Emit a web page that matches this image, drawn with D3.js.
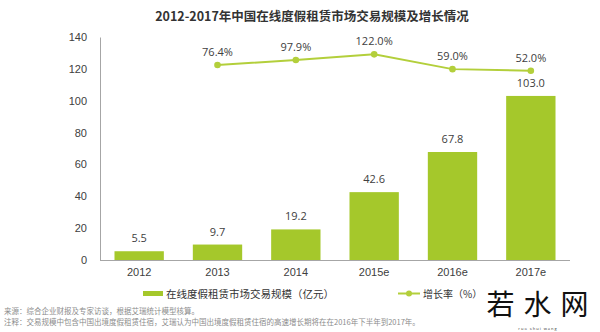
<!DOCTYPE html>
<html>
<head>
<meta charset="utf-8">
<script src="https://cdn.jsdelivr.net/npm/d3@7/dist/d3.min.js"></script>
<style>
  html, body { margin: 0; padding: 0; background: #fff; }
  svg { display: block; font-family: "Open Sans", "Noto Sans CJK SC", sans-serif; }
</style>
</head>
<body>
<svg id="chart" width="600" height="332"></svg>
<script>
// Market size (100M CNY) and year-over-year growth (%)
const years = ["2012", "2013", "2014", "2015e", "2016e", "2017e"];
const scale = [5.5, 9.7, 19.2, 42.6, 67.8, 103.0];
const growthYears = ["2013", "2014", "2015e", "2016e", "2017e"];
const growth = [76.4, 97.9, 122.0, 59.0, 52.0];
const yTicks = [0, 20, 40, 60, 80, 100, 120, 140];

const svg = d3.select("#chart");
const plotLeft = 100, plotRight = 570, plotTop = 37, plotBottom = 260;
const barColor = "#a5c82b", lineColor = "#b3cf3b", textColor = "#404040";
const cjk = "'Noto Sans CJK SC', sans-serif";

const x = d3.scaleBand().domain(years).range([plotLeft, plotRight]).paddingInner(0.37).paddingOuter(0.185);
const y = d3.scaleLinear().domain([0, 140]).range([plotBottom, plotTop]);
const y2 = d3.scaleLinear().domain([-755, 196]).range([plotBottom, plotTop]);

// Title
svg.append("text").attr("x", 312).attr("y", 21).attr("text-anchor", "middle")
  .attr("font-family", cjk).attr("font-weight", "bold").attr("font-size", 12.5)
  .attr("fill", "#333").text("2012-2017年中国在线度假租赁市场交易规模及增长情况");

// Y axis
const yAxis = svg.append("g").attr("transform", `translate(${plotLeft},0)`)
  .call(d3.axisLeft(y).tickValues(yTicks).tickSize(0).tickPadding(13));
yAxis.select(".domain").attr("stroke", "#a6a6a6");
yAxis.selectAll("text").attr("font-size", 11).attr("fill", textColor);

// X axis
const xAxis = svg.append("g").attr("transform", `translate(0,${plotBottom})`)
  .call(d3.axisBottom(x).tickSize(0).tickPadding(8));
xAxis.select(".domain").attr("stroke", "#a6a6a6").attr("d", `M${plotLeft},0.5H${plotRight}`);
xAxis.selectAll("text").attr("font-size", 11).attr("fill", textColor);

// Bars
svg.append("g").selectAll("rect").data(years).join("rect")
  .attr("x", d => x(d)).attr("width", x.bandwidth())
  .attr("y", (d, i) => y(scale[i])).attr("height", (d, i) => plotBottom - y(scale[i]))
  .attr("fill", barColor);

svg.append("g").selectAll("text").data(years).join("text")
  .attr("x", d => x(d) + x.bandwidth() / 2).attr("y", (d, i) => y(scale[i]) - 9)
  .attr("text-anchor", "middle").attr("font-size", 11).attr("fill", textColor)
  .text((d, i) => scale[i].toFixed(1));

// Growth line
const cx = d => x(d) + x.bandwidth() / 2;
const line = d3.line().x((d, i) => cx(growthYears[i])).y(d => y2(d));
svg.append("path").datum(growth).attr("d", line)
  .attr("fill", "none").attr("stroke", lineColor).attr("stroke-width", 2);
svg.append("g").selectAll("circle").data(growth).join("circle")
  .attr("cx", (d, i) => cx(growthYears[i])).attr("cy", d => y2(d)).attr("r", 3.3)
  .attr("fill", lineColor);
svg.append("g").selectAll("text").data(growth).join("text")
  .attr("x", (d, i) => cx(growthYears[i])).attr("y", d => y2(d) - 9)
  .attr("text-anchor", "middle").attr("font-size", 11).attr("fill", textColor)
  .text(d => d.toFixed(1) + "%");

// Legend
svg.append("rect").attr("x", 143).attr("y", 291).attr("width", 20).attr("height", 5).attr("fill", barColor);
svg.append("text").attr("x", 166).attr("y", 297.5).attr("font-family", cjk).attr("font-size", 10.5)
  .attr("fill", "#333").text("在线度假租赁市场交易规模（亿元）");
svg.append("line").attr("x1", 398).attr("x2", 420).attr("y1", 293.5).attr("y2", 293.5)
  .attr("stroke", lineColor).attr("stroke-width", 2);
svg.append("circle").attr("cx", 409).attr("cy", 293.5).attr("r", 3).attr("fill", lineColor);
svg.append("text").attr("x", 423).attr("y", 297.5).attr("font-family", cjk).attr("font-size", 10)
  .attr("fill", "#333").text("增长率（%）");

// Footnotes
svg.append("text").attr("x", 4).attr("y", 314).attr("font-family", cjk).attr("font-size", 7.5)
  .attr("fill", "#8c8c8c").text("来源：综合企业财报及专家访谈，根据艾瑞统计模型核算。");
svg.append("text").attr("x", 4).attr("y", 325).attr("font-family", cjk).attr("font-size", 7.5)
  .attr("fill", "#8c8c8c").text("注释：交易规模中包含中国出境度假租赁住宿，艾瑞认为中国出境度假租赁住宿的高速增长期将在在2016年下半年到2017年。");

// Site mark
svg.append("rect").attr("x", 482).attr("y", 282).attr("width", 118).attr("height", 50).attr("fill", "#fff");
svg.append("text").attr("x", 542).attr("y", 315).attr("text-anchor", "middle")
  .attr("font-family", cjk).attr("font-size", 28).attr("fill", "#111")
  .attr("letter-spacing", 9).text("若水网");
svg.append("text").attr("x", 538).attr("y", 330).attr("text-anchor", "middle")
  .attr("font-size", 4).attr("fill", "#333").attr("letter-spacing", 1)
  .text("ruo   shui   wang");
</script>
</body>
</html>
